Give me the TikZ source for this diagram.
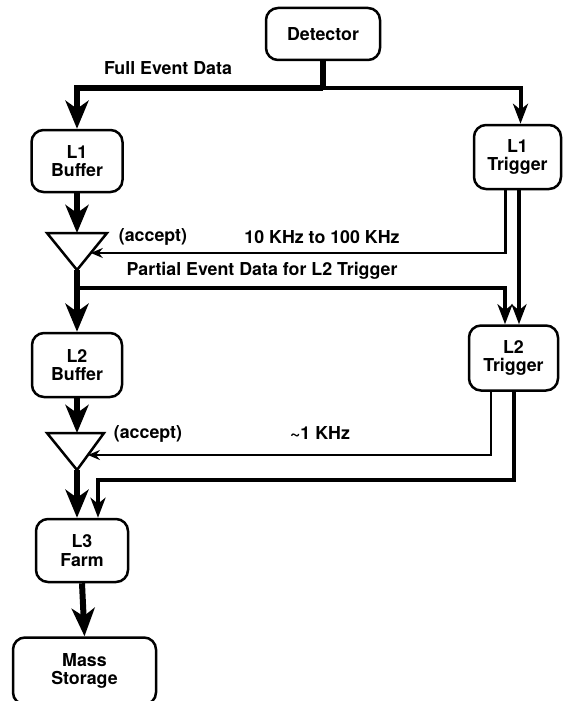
\documentclass[tikz,border=0pt]{standalone}
\usepackage{fontspec}
\setmainfont{TeX Gyre Heros}
\usetikzlibrary{arrows.meta,calc}
\begin{document}
\begin{tikzpicture}[x=1pt,y=-1pt,
  every node/.style={font=\bfseries\fontsize{17.8}{18.5}\selectfont},
  unit/.style={draw, line width=2.5pt, rounded corners=12pt, align=center, inner sep=0pt},
  gate/.style={draw, line width=2.5pt, line join=miter, fill=white},
  fat/.style={line width=6pt},
  mid/.style={line width=4pt},
  slim/.style={line width=2.6pt},
  fatarrow/.style={fat, -{Stealth[length=28pt,width=23pt,inset=8pt]}},
  midarrow/.style={mid, -{Stealth[length=20pt,width=15pt,inset=6pt]}},
  slimarrow/.style={slim, -{Stealth[length=12pt,width=10pt,inset=4pt]}}
]
\useasboundingbox (0,0) rectangle (563,701);

% processing stages
\node[unit, minimum width=114pt, minimum height=52pt] (det) at (323,34) {Detector};
\node[unit, minimum width=91pt, minimum height=62pt] (l1b) at (77,161) {L1\\Buffer};
\node[unit, minimum width=87pt, minimum height=64pt] (l1t) at (517.5,157) {L1\\Trigger};
\node[unit, minimum width=90pt, minimum height=64pt] (l2b) at (77,365) {L2\\Buffer};
\node[unit, minimum width=89pt, minimum height=65pt] (l2t) at (513.5,358) {L2\\Trigger};
\node[unit, minimum width=92pt, minimum height=63pt] (l3) at (82,550.5) {L3\\Farm};
\node[unit, minimum width=143pt, minimum height=67pt] (ms) at (84.5,671) {Mass\\Storage};

% accept gates
\draw[gate] (47,233) coordinate (t1l) -- (107,233) coordinate (t1r) -- (77,270) coordinate (t1b) -- cycle;
\draw[gate] (47,433) coordinate (t2l) -- (104,433) coordinate (t2r) -- (77,470) coordinate (t2b) -- cycle;

% full event data from the detector
\coordinate (j1) at ($(det.south)+(0,27)$);
\draw[fat] (det.south) -- (j1);
\draw[fatarrow] (j1) -| (l1b.north);
\draw[midarrow] (j1) -| ($(l1t.north)+(3,0)$);

% level 1
\draw[fatarrow] (l1b.south) -- (l1b.south |- t1l);
\coordinate (a1) at ($(t1r)!0.54!(t1b)$);
\draw[slimarrow] ($(l1t.south)+(-12,0)$) |- (a1);
\draw[midarrow] ($(l1t.south)+(1.5,0)$) -- ($(l2t.north)+(5.5,0)$);

% level 2
\draw[fatarrow] (t1b) -- (l2b.north);
\coordinate (j2) at (77,288);
\draw[midarrow] (j2) -| ($(l2t.north)+(-8.5,0)$);
\draw[fatarrow] (l2b.south) -- (l2b.south |- t2l);
\coordinate (a2) at ($(t2r)!0.595!(t2b)$);
\draw[slimarrow] ($(l2t.south)+(-22.5,0)$) |- (a2);
\draw[midarrow] (l2t.south) -- ++(0,88) -| ($(l3.north)+(16,0)$);

% level 3 and storage
\draw[fatarrow] (t2b) -- (t2b |- l3.north);
\draw[fatarrow] (l3.south) -- (ms.north);

% labels
\node (lblfull) at (168,68) {Full Event Data};
\node (acc1) at (153,237) {(accept)};
\node (rate1) at (322,237) {10 KHz to 100 KHz};
\node (lblpart) at (262,271) {Partial Event Data for L2 Trigger};
\node (acc2) at (148,434) {(accept)};
\node (rate2) at (320,433) {\textasciitilde1 KHz};
\end{tikzpicture}
\end{document}
